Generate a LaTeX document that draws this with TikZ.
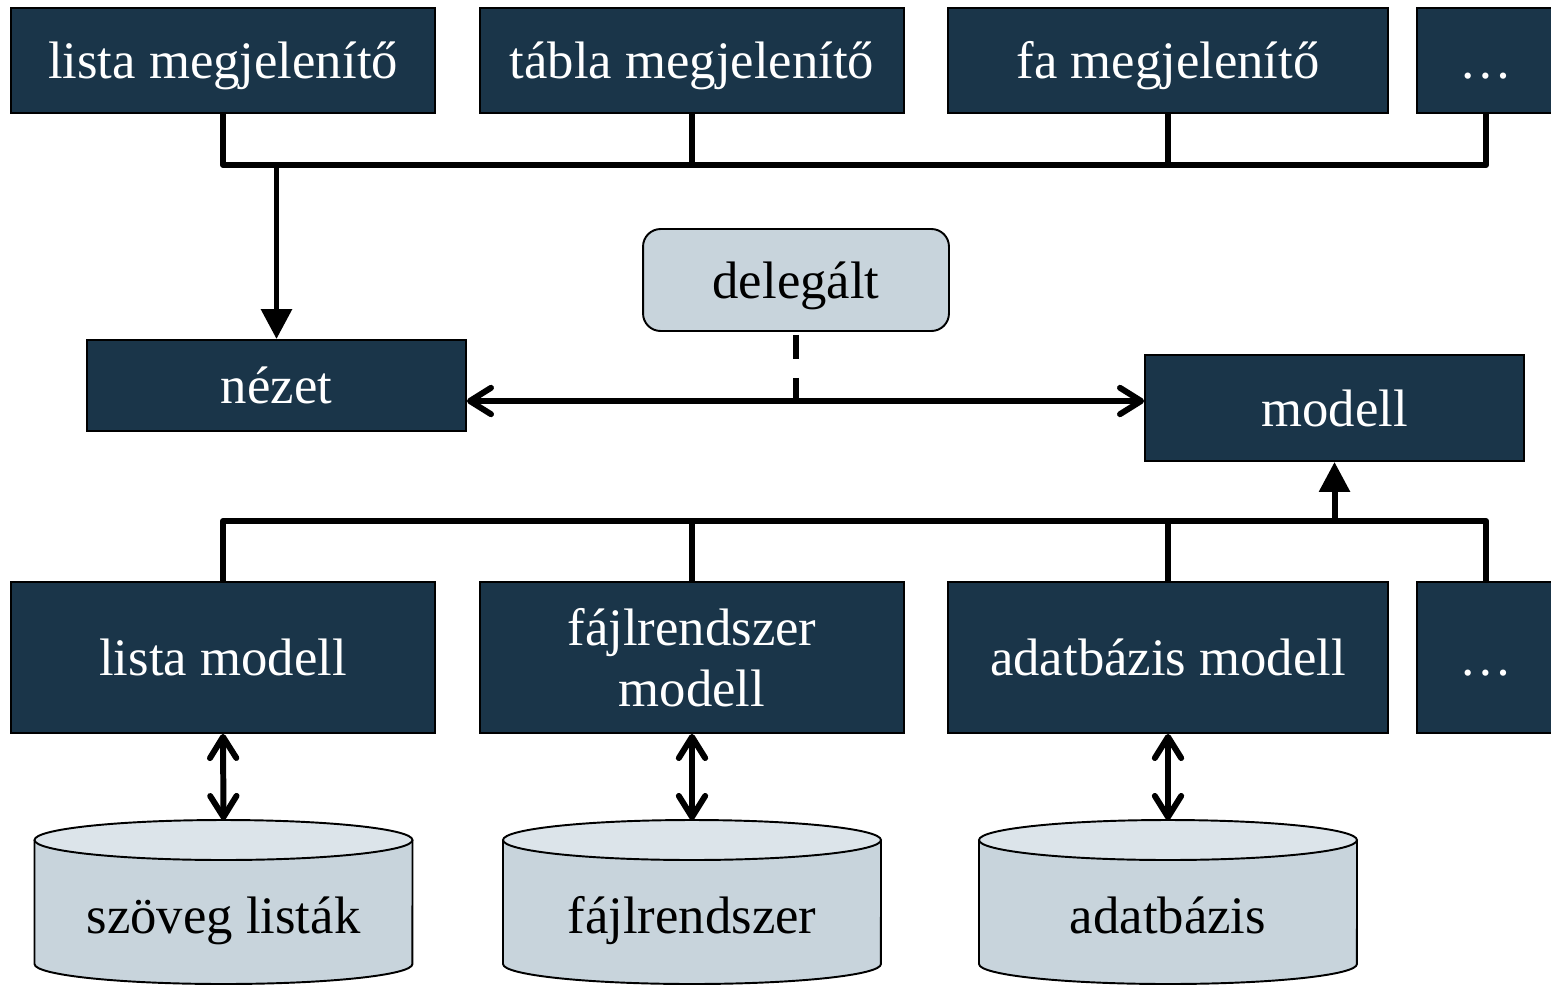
\documentclass[tikz,border=0pt]{standalone}
\usepackage{fontspec}
\setmainfont{Liberation Serif}
\usetikzlibrary{arrows.meta}
\definecolor{navy}{HTML}{1A3549}
\definecolor{paleblue}{HTML}{C8D4DC}
\definecolor{cyltop}{HTML}{DCE4EA}

\tikzset{
  label30/.style={font=\fontsize{30}{35}\selectfont, text height=21pt, text depth=0pt},
  box/.style={draw=black, line width=1.1pt, fill=navy, text=white,
    label30, inner sep=0pt, align=center},
  twoline/.style={text height=, text depth=},
  delegbox/.style={draw=black, line width=1.1pt, fill=paleblue, text=black,
    rounded corners=10pt, label30, inner sep=0pt},
  bus/.style={draw=black, line width=3.4pt, line join=round},
  filltip/.style={-{Triangle[length=17pt,width=17pt]}},
  barbs/.style={{Straight Barb[length=12pt,width=15pt,round]}-{Straight Barb[length=12pt,width=15pt,round]}},
  cylline/.style={draw=black, line width=1.1pt},
  cyltext/.style={label30, text=black, inner sep=0pt},
}

% storage cylinder: name of top coordinate, centre x, label
\newcommand\storecyl[3]{%
  \draw[cylline, fill=paleblue] ({#2-189},840) -- ({#2-189},964)
    arc[start angle=180, end angle=360, x radius=3.78cm, y radius=0.4cm]
    -- ({#2+189},840);
  \draw[cylline, fill=cyltop] (#2,840) ellipse[x radius=3.78cm, y radius=0.4cm];
  \coordinate (#1) at (#2,820);
  \node[cyltext] (#1t) at (#2,915) {#3};
}

\begin{document}
\begin{tikzpicture}[x=0.02cm, y=-0.02cm]
\useasboundingbox (0,0) rectangle (1551,984);

% viewers
\node[box, minimum width=8.48cm, minimum height=2.1cm] (v1) at (223,60.5) {lista megjelenítő};
\node[box, minimum width=8.48cm, minimum height=2.1cm] (v2) at (692,60.5) {tábla megjelenítő};
\node[box, minimum width=8.8cm, minimum height=2.1cm] (v3) at (1168,60.5) {fa megjelenítő};
\node[box, minimum width=2.76cm, minimum height=2.1cm] (v4) at (1486,60.5) {…};

% view, delegate, model
\node[box, minimum width=7.58cm, minimum height=1.82cm] (nezet) at (276.5,385.5) {nézet};
\node[delegbox, minimum width=6.12cm, minimum height=2.04cm] (deleg) at (796,280) {delegált};
\node[box, minimum width=7.58cm, minimum height=2.12cm] (modell) at (1334.5,408) {modell};

% concrete models
\node[box, minimum width=8.48cm, minimum height=3.02cm] (m1) at (223,657.5) {lista modell};
\node[box, twoline, minimum width=8.48cm, minimum height=3.02cm] (m2) at (692,657.5) {fájlrendszer\\modell};
\node[box, minimum width=8.8cm, minimum height=3.02cm] (m3) at (1168,657.5) {adatbázis modell};
\node[box, minimum width=2.76cm, minimum height=3.02cm] (m4) at (1486,657.5) {…};

% storages
\storecyl{s1}{223.5}{szöveg listák}
\storecyl{s2}{692}{fájlrendszer}
\storecyl{s3}{1168}{adatbázis}

% bus levels
\coordinate (tb) at (0,165);
\coordinate (ha) at (0,401);
\coordinate (bb) at (0,521);

% top bus
\draw[bus] (v1.south) -- (v1.south |- tb) -- (v4.south |- tb) -- (v4.south);
\draw[bus] (v2.south) -- (v2.south |- tb);
\draw[bus] (v3.south) -- (v3.south |- tb);
\draw[bus, filltip] (nezet.north |- tb) -- (nezet.north);

% view <-> model, delegated
\draw[bus, barbs] (nezet.east |- ha) -- (modell.west |- ha);
\draw[bus, dash pattern=on 13.6pt off 10.8pt, dash phase=22.7pt] (deleg.south) -- (deleg.south |- ha);

% bottom bus
\draw[bus] (m1.north) -- (m1.north |- bb) -- (m4.north |- bb) -- (m4.north);
\draw[bus] (m2.north) -- (m2.north |- bb);
\draw[bus] (m3.north) -- (m3.north |- bb);
\draw[bus, filltip] (modell.south |- bb) -- (modell.south);

% model <-> storage
\draw[bus, barbs] (m1.south) -- (s1);
\draw[bus, barbs] (m2.south) -- (s2);
\draw[bus, barbs] (m3.south) -- (s3);
\end{tikzpicture}
\end{document}
